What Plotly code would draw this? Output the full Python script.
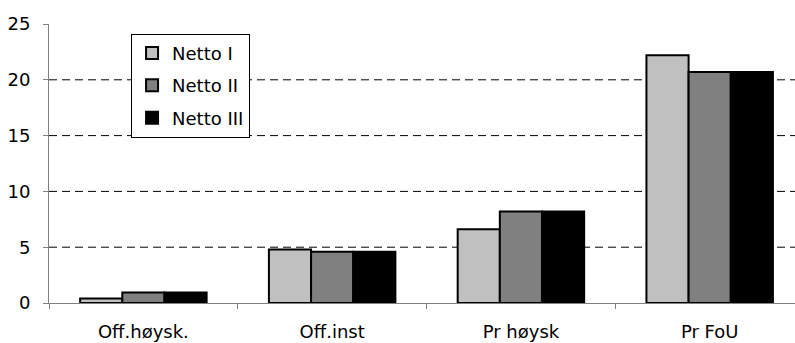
import plotly.graph_objects as go

categories = ["Off.høysk.", "Off.inst", "Pr høysk", "Pr FoU"]
series_names = ["Netto I", "Netto II", "Netto III"]
netto_1 = [0.4, 4.8, 6.6, 22.2]
netto_2 = [0.95, 4.6, 8.2, 20.7]
netto_3 = [0.95, 4.6, 8.2, 20.7]
y_ticks = [0, 5, 10, 15, 20, 25]
grid_levels = [5, 10, 15, 20]

fills = ["#C0C0C0", "#808080", "#000000"]
font_family = "DejaVu Sans, Arial, sans-serif"

fig = go.Figure()
for i, (name, vals) in enumerate(zip(series_names, [netto_1, netto_2, netto_3])):
    fig.add_trace(go.Bar(
        x=categories, y=vals, name=name, legendgroup=name,
        marker=dict(color=fills[i], line=dict(color="#000000", width=2)),
    ))

# dashed horizontal grid lines (none at the top of the axis)
for lvl in grid_levels:
    fig.add_shape(type="line", xref="paper", yref="y", x0=0, x1=1, y0=lvl, y1=lvl,
                  line=dict(color="#000000", width=1, dash="8px,5px"), layer="below")

fig.update_layout(
    width=795, height=343,
    margin=dict(l=49, r=0, t=24, b=40),
    paper_bgcolor="white", plot_bgcolor="white",
    font=dict(family=font_family, size=18, color="#000000"),
    barmode="group", bargap=0.33, bargroupgap=0,
    showlegend=True,
    legend=dict(
        x=0.11, y=0.965, xanchor="left", yanchor="top",
        bordercolor="#000000", borderwidth=1, bgcolor="white",
        font=dict(size=18), traceorder="grouped", tracegroupgap=6,
        itemwidth=30,
    ),
    xaxis=dict(
        range=[-0.5, 3.452], showline=True, linecolor="#808080", linewidth=1,
        ticks="outside", tickson="boundaries", ticklen=5, tickcolor="#808080",
        showgrid=False, zeroline=False, ticklabelstandoff=12,
    ),
    yaxis=dict(
        range=[0, 25], tickvals=y_ticks, showline=True, linecolor="#808080", linewidth=1,
        ticks="outside", ticklen=5, tickcolor="#808080",
        showgrid=False, zeroline=False, ticklabelstandoff=9,
    ),
)

fig.write_html("out.html")
